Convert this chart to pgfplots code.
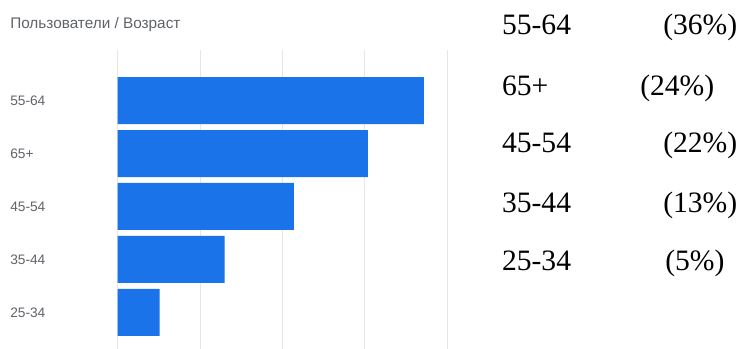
\documentclass[border=0pt]{standalone}
\usepackage{fontspec}
\setmainfont{Liberation Sans}
\newfontfamily\serifR{Liberation Serif}
\usepackage{pgfplots}
\pgfplotsset{compat=1.18}
\definecolor{barblue}{HTML}{1A73E8}
\definecolor{lbl}{HTML}{5F6368}
\definecolor{gridc}{HTML}{E6E6E6}
\begin{document}
\begin{tikzpicture}
\useasboundingbox (0,0) rectangle (556.5pt,-261.75pt);
\begin{axis}[
  at={(88.3pt,-261.75pt)}, anchor=south west,
  scale only axis, width=246.95pt, height=224.25pt,
  xmin=0, xmax=40, ymin=-0.689, ymax=4.953,
  xbar, bar width=35.25pt, bar shift=0pt,
  axis line style={draw=none},
  xtick={0,10,20,30,40}, xticklabels={},
  xmajorgrids, grid style={draw=gridc, line width=0.75pt},
  ytick={0,1,2,3,4}, yticklabels={25-34,35-44,45-54,65+,55-64},
  major tick length=0pt,
  yticklabel style={anchor=west, xshift=-80.8pt, inner sep=0pt, font=\fontsize{10.3}{12}\selectfont, text=lbl},
  clip=false,
]
\addplot[fill=barblue, draw=none] coordinates {(5.1,0) (13.0,1) (21.4,2) (30.4,3) (37.2,4)};
\end{axis}
\node[anchor=base west, inner sep=0pt, text=lbl, font=\fontsize{11.5}{13}\selectfont] at (7.5pt,-21.2pt) {Пользователи / Возраст};
\begin{scope}[every node/.style={anchor=base west, inner sep=0pt, font=\serifR\fontsize{22.2}{26}\selectfont}]
\node at (376.3pt,-26.25pt) {55-64};
\node at (497.25pt,-26.25pt) {(36\%)};
\node at (376.3pt,-72pt) {65+};
\node at (480pt,-72pt) {(24\%)};
\node at (376.3pt,-114.75pt) {45-54};
\node at (497.25pt,-114.75pt) {(22\%)};
\node at (376.3pt,-159pt) {35-44};
\node at (497.25pt,-159pt) {(13\%)};
\node at (376.3pt,-202.5pt) {25-34};
\node at (498.75pt,-202.5pt) {(5\%)};
\end{scope}
\end{tikzpicture}
\end{document}
